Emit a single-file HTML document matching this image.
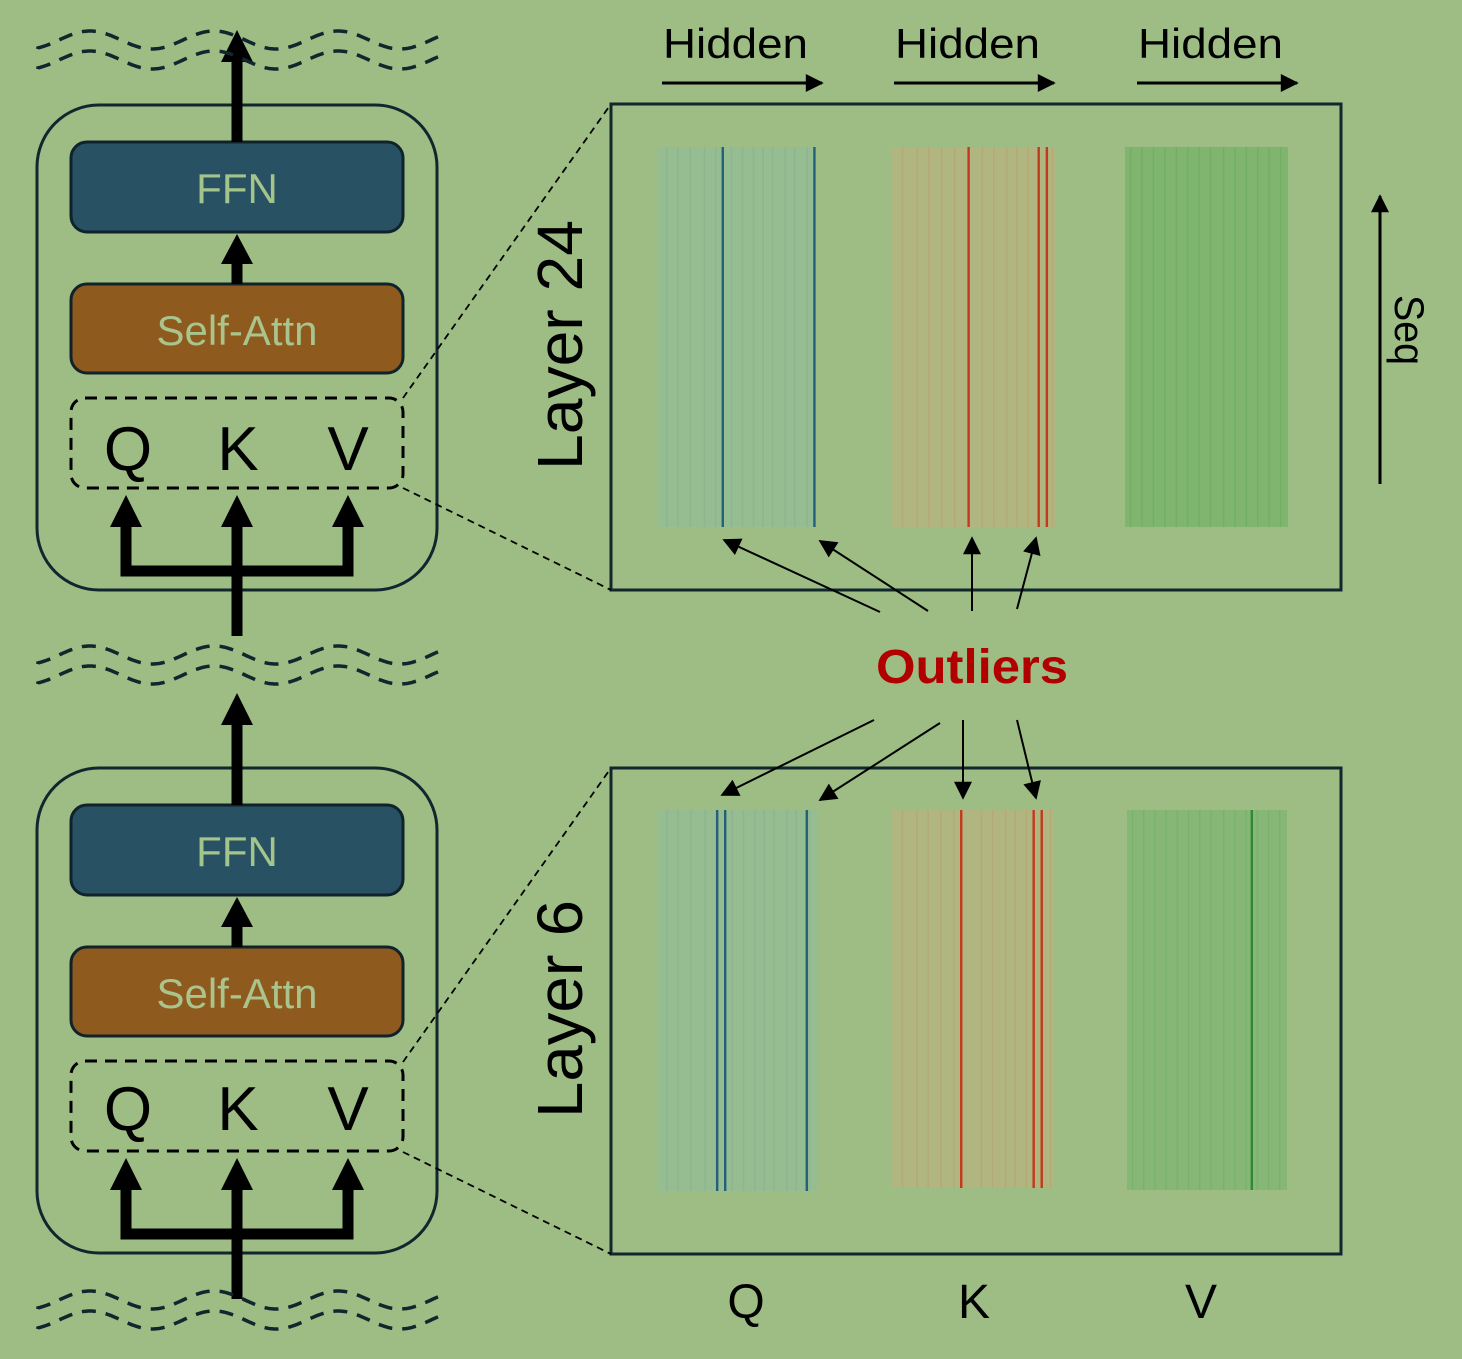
<!DOCTYPE html>
<html><head><meta charset="utf-8"><style>
html,body{margin:0;padding:0;background:#9dbd85;}
svg{display:block;font-family:"Liberation Sans",sans-serif;}
</style></head><body>
<svg id="fig" width="1462" height="1359" viewBox="0 0 1462 1359" xmlns="http://www.w3.org/2000/svg">
<defs>
<marker id="ahs" viewBox="0 0 10 10" refX="9" refY="5" markerWidth="22" markerHeight="18" orient="auto" markerUnits="userSpaceOnUse"><path d="M0,0 L10,5 L0,10z" fill="#000"/></marker>
</defs>
<rect width="1462" height="1359" fill="#9dbd85"/>
</svg>
<script>
// heatmap outlier column positions (fraction of width)
const qTopOutliers=[0.41,0.99];
const kTopOutliers=[0.47,0.90,0.95];
const qBotOutliers=[0.37,0.42,0.93];
const kBotOutliers=[0.43,0.88,0.93];
const vBotOutliers=[0.78];
const NS='http://www.w3.org/2000/svg';
const svg=document.getElementById('fig');
function el(tag,attrs,parent){const e=document.createElementNS(NS,tag);for(const k in attrs)e.setAttribute(k,attrs[k]);(parent||svg).appendChild(e);return e;}
function wave(y){let d='M38,'+(y+9);const P=124,A=9;for(let x=38;x<440;x+=2){const yy=y-A*Math.sin((x-59)/P*2*Math.PI);d+=' L'+x+','+yy.toFixed(1);}return d;}
function block(oy,idx,ty){
  const g=el('g',{});
  
  
  const o=el('rect',{x:37,y:105+oy,width:400,height:485,rx:62,fill:'none',stroke:'#12262e','stroke-width':3},g);
  
  const ffn=el('rect',{x:71,y:142+oy,width:332,height:90,rx:16,fill:'#285163',stroke:'#10222b','stroke-width':3},g);
  
  const ft=el('text',{x:237,y:203+oy,'font-size':42,'text-anchor':'middle',fill:'#a3c48a'},g);ft.textContent='FFN';
  
  const sa=el('rect',{x:71,y:284+oy,width:332,height:89,rx:16,fill:'#8f5a1e',stroke:'#10222b','stroke-width':3},g);
  
  const st=el('text',{x:237,y:345+oy,'font-size':42,'text-anchor':'middle',fill:'#a9c48c'},g);st.textContent='Self-Attn';
  
  const qb=el('rect',{x:71,y:398+oy,width:332,height:90,rx:14,fill:'none',stroke:'#000','stroke-width':3,'stroke-dasharray':'12 8'},g);
  
  [['Q',128],['K',238],['V',348]].forEach(([t,x])=>{const tt=el('text',{x:x,y:ty+oy,'font-size':62,'text-anchor':'middle',fill:'#000'},g);tt.textContent=t;
    });
  el('line',{x1:237,y1:142+oy,x2:237,y2:oy+62,stroke:'#000','stroke-width':11},g);
  el('path',{d:`M221,${oy+62} L237,${oy+30} L253,${oy+62}z`,fill:'#000'},g);
  el('line',{x1:237,y1:284+oy,x2:237,y2:262+oy,stroke:'#000','stroke-width':11},g);
  el('path',{d:`M221,${oy+264} L237,${oy+234} L253,${oy+264}z`,fill:'#000'},g);
  el('line',{x1:237,y1:636+oy,x2:237,y2:520+oy,stroke:'#000','stroke-width':11},g);
  el('path',{d:`M126,${oy+525} L126,${oy+571} L348,${oy+571} L348,${oy+525}`,fill:'none',stroke:'#000','stroke-width':11},g);
  [126,237,348].forEach(x=>el('path',{d:`M${x-16},${oy+527} L${x},${oy+495} L${x+16},${oy+527}z`,fill:'#000'},g));
}
block(0,'top',470);block(663,'bottom',467);
[[40,60],[655,675],[1300,1320]].forEach((p,i)=>p.forEach(y=>{const w=el('path',{d:wave(y),fill:'none',stroke:'#12262e','stroke-width':3.5,'stroke-dasharray':'14 10'});
  }));
el('line',{x1:237,y1:62,x2:237,y2:100,stroke:'#000','stroke-width':11});
[[0,'layer-24'],[664,'layer-6']].forEach(([oy,n])=>{
  const f=el('rect',{x:611,y:104+oy,width:730,height:486,fill:'none',stroke:'#12262e','stroke-width':3});
  
  el('line',{x1:403,y1:398+oy,x2:611,y2:104+oy,stroke:'#000','stroke-width':1.8,'stroke-dasharray':'7 5'});
  el('line',{x1:403,y1:488+oy,x2:611,y2:590+oy,stroke:'#000','stroke-width':1.8,'stroke-dasharray':'7 5'});
});
function heat(x,y,w,h,base,light,dark,outl,name,noise){
  const g=el('g',{});
  el('rect',{x:x,y:y,width:w,height:h,fill:base},g);
  for(let i=0;i<noise.length;i++){el('rect',{x:x+noise[i]*w,y:y,width:1.5,height:h,fill:light,opacity:0.2},g);}
  outl.forEach(f=>{const r=el('rect',{x:x+f*w-1.2,y:y,width:2.4,height:h,fill:dark},g);
    });
}
const qNoise=[0.05,0.12,0.2,0.29,0.36,0.46,0.53,0.6,0.66,0.72,0.8,0.86,0.94];
const kNoise=[0.06,0.15,0.22,0.3,0.38,0.55,0.62,0.7,0.76,0.83,0.98];
const vNoise=[0.03,0.1,0.17,0.24,0.31,0.38,0.45,0.52,0.6,0.67,0.74,0.81,0.88,0.95];
heat(658,147,158,380,'#96bc92','#6d9c8c','#24607a',qTopOutliers,'q-heatmap-layer24',qNoise);
heat(892,147,163,380,'#b1b57f','#c77c54','#c23a1c',kTopOutliers,'k-heatmap-layer24',kNoise);
heat(1125,147,163,380,'#80b570','#3e9a3e','#2e8a32',[],'v-heatmap-layer24',vNoise);
heat(658,810,160,381,'#96bc92','#6d9c8c','#24607a',qBotOutliers,'q-heatmap-layer6',qNoise);
heat(892,810,161,378,'#b1b57f','#c77c54','#c23a1c',kBotOutliers,'k-heatmap-layer6',kNoise);
heat(1127,810,160,380,'#86b777','#4c9f46','#2e8a32',vBotOutliers,'v-heatmap-layer6',vNoise);
function txt(s,attrs,name){const t=el('text',attrs);t.textContent=s;return t;}
[663,895,1138].forEach((x,i)=>{txt('Hidden',{x:x,y:58,'font-size':42,textLength:145,lengthAdjust:'spacingAndGlyphs',fill:'#000'},'hidden-axis-label');
  el('line',{x1:x-1,y1:83,x2:x+159,y2:83,stroke:'#000','stroke-width':3,'marker-end':'url(#ahs)'});});
txt('Layer 24',{transform:'translate(582,470) rotate(-90)','font-size':64,textLength:250,lengthAdjust:'spacingAndGlyphs',fill:'#000'},'layer-24-label');
txt('Layer 6',{transform:'translate(582,1118) rotate(-90)','font-size':64,textLength:218,lengthAdjust:'spacingAndGlyphs',fill:'#000'},'layer-6-label');
el('line',{x1:1380,y1:484,x2:1380,y2:196,stroke:'#000','stroke-width':3,'marker-end':'url(#ahs)'});
txt('Seq',{transform:'translate(1395,295) rotate(90)','font-size':42,textLength:70,lengthAdjust:'spacingAndGlyphs',fill:'#000'},'seq-axis-label');
txt('Outliers',{x:972,y:683,'font-size':48,'font-weight':'bold','text-anchor':'middle',textLength:192,lengthAdjust:'spacingAndGlyphs',fill:'#b00000'},'outliers-label');
[[880,612,724,540],[928,611,820,541],[972,611,972,538],[1017,609,1036,538],[874,720,722,795],[940,723,820,800],[963,720,963,798],[1017,720,1036,798]].forEach(a=>{
  const l=el('line',{x1:a[0],y1:a[1],x2:a[2],y2:a[3],stroke:'#000','stroke-width':2,'marker-end':'url(#ahs)'});
  });
[['Q',746],['K',974],['V',1201]].forEach(([s,x])=>txt(s,{x:x,y:1318,'font-size':48,'text-anchor':'middle',fill:'#000'},'column-label-'+s.toLowerCase()));
</script>
</body></html>
